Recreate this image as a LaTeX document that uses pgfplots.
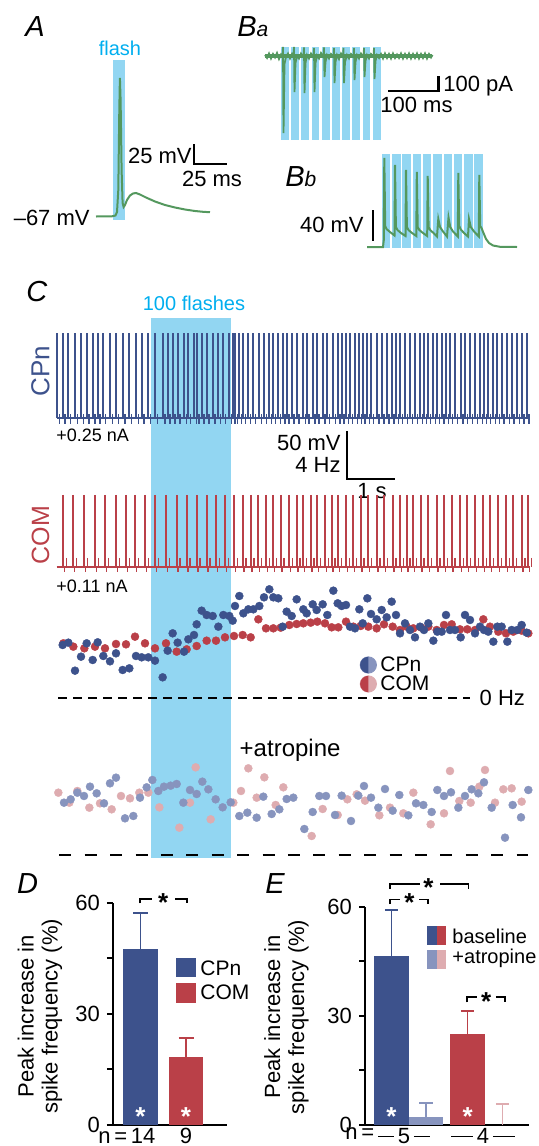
\documentclass[border=0pt]{standalone}
\usepackage{fontspec}
\setmainfont{Liberation Sans}
\usepackage{pgfplots}
\pgfplotsset{compat=1.18}
\usepackage{pgfplotstable}
\usetikzlibrary{plotmarks}

\definecolor{flashfill}{RGB}{146,214,242}
\definecolor{flashtxt}{RGB}{0,174,239}
\definecolor{trace}{RGB}{84,152,94}
\definecolor{cpn}{RGB}{61,82,140}
\definecolor{com}{RGB}{186,64,72}
\definecolor{cpnl}{RGB}{135,148,190}
\definecolor{coml}{RGB}{222,172,176}

\newcommand{\fs}[1]{\fontsize{#1}{#1}\selectfont}
\newcommand{\fb}[4]{\addplot[fill=flashfill, draw=none, forget plot] coordinates {(#1,#3) (#2,#3) (#2,#4) (#1,#4)} -- cycle;}
\newcommand{\ndash}[1]{\rule[0.27em]{#1}{0.07em}}

% left half of a disc, filled with the fill colour
\pgfdeclareplotmark{lefthalf*}{%
  \pgfpathmoveto{\pgfqpoint{0pt}{\pgfplotmarksize}}%
  \pgfpatharc{90}{270}{\pgfplotmarksize}%
  \pgfpathclose
  \pgfusepathqfill}

\pgfplotsset{pxaxis/.style={anchor=south west, scale only axis, y dir=reverse, hide axis, clip=false}}

% CPn baseline: spike times / instantaneous frequency (read positions)
\pgfplotstableread{
t f
52 nan
68 195
85 188
105 272
123 230
140 190
158 240
173 187
190 228
210 244
228 220
248 270
268 265
288 228
305 232
325 232
345 242
368 292
383 212
398 160
413 188
432 215
445 178
462 165
470 133
485 92
500 105
518 108
535 140
550 105
568 108
578 122
585 78
598 48
610 100
625 88
640 88
658 78
672 52
688 28
700 52
715 55
728 140
740 95
755 108
770 58
790 88
800 100
818 73
830 90
848 73
862 105
880 32
893 70
905 78
918 75
930 140
945 145
958 88
968 130
982 55
993 102
1010 118
1025 90
1040 112
1055 65
1068 105
1080 160
1095 130
1110 150
1125 172
1140 140
1152 150
1165 130
1180 182
1192 155
1205 155
1218 105
1230 150
1245 150
1262 172
1275 105
1290 120
1305 160
1320 140
1332 150
1345 155
1360 185
1372 140
1385 140
1402 185
1415 150
1432 150
1445 135
1460 158
}\cpntab

\pgfplotstableread{
t f
70 190
100 200
133 205
165 200
195 205
228 192
258 193
285 170
315 190
345 205
378 190
410 215
440 208
470 198
500 182
528 182
555 172
582 168
608 165
632 172
655 118
678 145
700 145
722 143
748 135
770 132
790 130
812 128
832 125
855 130
875 142
895 142
918 125
940 140
962 138
985 140
1010 145
1032 133
1058 140
1080 150
1100 140
1120 145
1142 142
1165 140
1190 150
1212 135
1235 133
1260 148
1282 148
1305 150
1330 118
1350 140
1375 155
1398 160
1420 155
1445 152
1465 160
}\comtab

\pgfplotstableread{
t f
72 218
92 208
112 188
132 198
150 170
170 190
192 220
210 160
228 143
255 265
280 258
300 203
320 172
337 150
355 183
372 170
392 167
410 162
430 218
450 180
470 192
487 155
505 178
527 208
548 232
572 217
598 258
622 248
650 263
670 200
695 252
718 238
740 207
760 203
793 297
818 246
838 198
858 198
885 255
905 197
933 273
955 197
972 168
993 203
1015 233
1035 177
1058 242
1078 195
1105 256
1128 220
1150 225
1175 246
1192 180
1212 198
1233 187
1255 233
1275 198
1295 178
1315 190
1332 157
1355 233
1395 323
1418 225
1443 262
1465 180
}\cpnatr

\pgfplotstableread{
t f
55 188
88 218
112 183
148 233
180 220
215 238
243 198
270 205
298 188
325 188
358 232
418 293
450 218
467 112
512 268
580 218
603 183
625 115
650 203
673 142
707 225
730 172
815 318
848 237
893 255
922 208
950 193
975 212
1018 256
1050 233
1090 250
1120 188
1172 283
1212 250
1230 123
1258 213
1292 218
1318 170
1335 120
1365 218
1390 178
1415 175
1445 215
}\comatr

\begin{document}
\begin{tikzpicture}
\useasboundingbox (0,0) rectangle (269pt,573pt);

%================ overlay axis in picture pixels =================
\begin{axis}[pxaxis, at={(0pt,0pt)}, width=269pt, height=573pt,
  xmin=0, xmax=538, ymin=0, ymax=1146]
% ---- A
\fb{113.3}{125}{60}{220}
\addplot[trace, line width=1pt] coordinates {(96,216.5)(112,216.3)(115.5,215.5)(117,212)(118.3,190)(119.3,110)(119.9,78)(120.6,100)(121.6,170)(122.6,203)(123.6,207)(125,205)(127,200)(130,195.5)(133,193.5)(136,193)(140,194.5)(146,197.5)(155,201.5)(165,205)(175,207.5)(185,209.5)(195,211)(203,211.8)(210,212.2)};
\addplot[black, line width=1.2pt] coordinates {(194,144)(194,164)(227,164)};
\node[anchor=base west, inner sep=0, font=\fs{14.5}\itshape] at (25,36.7) {A};
\node[anchor=base, inner sep=0, font=\fs{10}, text=flashtxt] at (120,55) {flash};
\node[anchor=base east, inner sep=0, font=\fs{11}] at (192,163.3) {25 mV};
\node[anchor=base, inner sep=0, font=\fs{11}] at (212,186.7) {25 ms};
\node[anchor=base east, inner sep=0, font=\fs{11}] at (90,225) {–67 mV};
% ---- Ba
\fb{281}{288.8}{47.3}{140}
\fb{291.2}{299}{47.3}{140}
\fb{301.4}{309.2}{47.3}{140}
\fb{311.6}{319.4}{47.3}{140}
\fb{321.8}{329.6}{47.3}{140}
\fb{332}{339.8}{47.3}{140}
\fb{342.2}{350}{47.3}{140}
\fb{352.4}{360.2}{47.3}{140}
\fb{362.6}{370.4}{47.3}{140}
\fb{372.8}{380.6}{47.3}{140}
\addplot[trace, line width=1.6pt] coordinates {(265,56)(432,56)};
\addplot[trace, line width=0.9pt] coordinates {(265,55)(267,58)(269,53.5)(271,58.5)(273,54)(275,57.5)(277,53)(279,59)(281,54.5)(282.5,57)(283,47)(283.5,133)(284.5,64)(286,57)(288,53.5)(290,58.5)(292,54)(293.5,57)(294,47)(294.5,92)(295.5,63)(297,56)(299,58.5)(301,53.5)(303.5,57)(304,47.5)(304.5,93)(305.5,63)(307,55)(309,58.5)(311,53.5)(313.5,57)(314,48)(314.5,92)(315.5,63)(317,55.5)(319,58.5)(321,53)(323.5,57)(324,47.5)(324.5,77)(325.5,62)(327,55)(329,58.5)(331,54)(333.5,57)(334,48)(334.5,83)(335.5,62)(337,55)(339,59)(341,53.5)(343,57)(343.5,48)(344,83)(345,62)(347,55)(349,58.5)(351,54)(353.5,57)(354,48)(354.5,80)(355.5,62)(357,55)(359,58.5)(361,53.5)(363.5,57)(364,48)(364.5,77)(365.5,61)(367,55)(369,58.5)(371,54)(373.5,57)(374,48)(374.5,79)(375.5,61)(377,55)(379,58)(381,54)(383,58.5)(385,53.5)(387,58)(389,54)(391,58.5)(393,53.5)(395,58)(397,54.5)(399,58)(401,53.5)(403,58.5)(405,54)(407,58)(409,53.5)(411,58.5)(413,54)(415,58)(417,53.5)(419,58.5)(421,54)(423,58)(425,53.5)(427,58.5)(429,54)(431,57.5)(432.5,55)};
\addplot[black, line width=1.2pt] coordinates {(438.3,76)(438.3,91)(388.3,91)};
\node[anchor=base west, inner sep=0] at (237,36.7) {\fs{14.5}\itshape B\fs{10.5}a};
\node[anchor=base west, inner sep=0, font=\fs{11}] at (443,91.7) {100 pA};
\node[anchor=base west, inner sep=0, font=\fs{11}] at (380,112.3) {100 ms};
% ---- Bb
\fb{381.7}{390.2}{154}{247.5}
\fb{392}{400.5}{154}{247.5}
\fb{402.3}{410.8}{154}{247.5}
\fb{412.6}{421.1}{154}{247.5}
\fb{422.9}{431.4}{154}{247.5}
\fb{433.2}{441.7}{154}{247.5}
\fb{443.5}{452}{154}{247.5}
\fb{453.8}{462.3}{154}{247.5}
\fb{464.1}{472.6}{154}{247.5}
\fb{474.4}{482.9}{154}{247.5}
\addplot[trace, line width=1pt] coordinates {(367,247)(383,247)(383.8,240)(384.3,158)(385.2,226)(386.5,229)(390,232)(394.5,235.5)(395,165)(395.9,227)(397.5,230)(401,233)(405.5,236)(406,170)(406.9,227)(408.5,230)(412,233)(416.3,236)(416.8,172)(417.7,227)(419.3,230)(423,233)(427.2,236)(427.7,176)(428.6,227)(430.2,230)(434,233.5)(437,236.5)(438.3,219)(440,227)(443,231.5)(447,236.5)(448.5,217.5)(450.2,227)(453,231.5)(457.8,236.5)(458.3,173)(459.2,226)(460.8,229.5)(464,233)(468,236.5)(469,219)(470.8,227)(474,231.5)(478.8,236.5)(479.3,175)(480.2,226)(481.5,228)(483.5,233)(486,239)(489,243)(493,245.5)(500,246.8)(517,247)};
\addplot[black, line width=1.2pt] coordinates {(373,210)(373,241)};
\node[anchor=base west, inner sep=0] at (285,186.7) {\fs{14.5}\itshape B\fs{10.5}b};
\node[anchor=base east, inner sep=0, font=\fs{11}] at (364,232.3) {40 mV};
% ---- C
\fb{151}{231}{318}{858}
\addplot[black, line width=1.2pt] coordinates {(347,431)(347,479)(395,479)};
\node[anchor=base west, inner sep=0, font=\fs{14.5}\itshape] at (26,301) {C};
\node[anchor=base, inner sep=0, font=\fs{10}, text=flashtxt] at (194,310) {100 flashes};
\node[rotate=90, inner sep=0, font=\fs{13}, text=cpn] at (40.5,371) {CPn};
\node[rotate=90, inner sep=0, font=\fs{12.5}, text=com] at (40.5,535) {COM};
\node[anchor=base west, inner sep=0, font=\fs{9}] at (56,441.7) {+0.25 nA};
\node[anchor=base west, inner sep=0, font=\fs{9}] at (56,592.3) {+0.11 nA};
\node[anchor=base east, inner sep=0, font=\fs{11}] at (341,450.3) {50 mV};
\node[anchor=base east, inner sep=0, font=\fs{11}] at (341,472.6) {4 Hz};
\node[anchor=base, inner sep=0, font=\fs{11}] at (372,498.3) {1 s};
% ---- D / E letters and n labels
\node[anchor=base west, inner sep=0, font=\fs{14.5}\itshape] at (16.7,893.3) {D};
\node[anchor=base west, inner sep=0, font=\fs{14.5}\itshape] at (265,893.3) {E};
\node[anchor=north west, inner sep=0, font=\fs{11}] at (98,1127.5) {n\,=\,14};
\node[anchor=north, inner sep=0, font=\fs{11}] at (186,1127.5) {9};
\node[anchor=north west, inner sep=0, font=\fs{11}] at (345,1127.5) {n\,=};
\node[anchor=north, inner sep=0, font=\fs{11}] at (404,1127.5) {\ndash{8pt}\,5\,\ndash{8pt}};
\node[anchor=north, inner sep=0, font=\fs{11}] at (483,1127.5) {\ndash{11pt}\,4\,\ndash{11pt}};
\end{axis}

%================ C traces (shared time axis) =================
\begin{axis}[pxaxis, at={(20pt,0pt)}, width=249pt, height=573pt,
  xmin=0, xmax=1494, ymin=0, ymax=1146]
\addplot[cpn, line width=1pt] coordinates {(50,418)(1463,418)};
\addplot[only marks, mark=|, mark size=21.2pt, mark options={cpn, line width=0.85pt}] table[x=t, y expr=375.7] {\cpntab};
\addplot[only marks, mark=|, mark size=2.5pt, mark options={cpn, line width=0.7pt, xshift=1.1pt}] table[x=t, y expr=419.5] {\cpntab};
\addplot[com, line width=1pt] coordinates {(50,567)(1470,567)};
\addplot[only marks, mark=|, mark size=18pt, mark options={com, line width=0.85pt}] table[x=t, y expr=531] {\comtab};
\addplot[only marks, mark=|, mark size=2.3pt, mark options={com, line width=0.7pt, xshift=1.6pt}] table[x=t, y expr=562.5] {\comtab};
\addplot[only marks, mark=|, mark size=1.5pt, mark options={com, line width=0.7pt, xshift=0.6pt}] table[x=t, y expr=569] {\comtab};
\end{axis}

%================ C frequency scatter, baseline =================
\begin{axis}[pxaxis, at={(20pt,218pt)}, width=249pt, height=65pt,
  xmin=0, xmax=1494, ymin=0, ymax=390]
\addplot[black, line width=1pt, dash pattern=on 4.2pt off 3.3pt] coordinates {(55,355)(1290,355)};
\addplot[only marks, color=com, mark=*, mark size=2pt, mark options={draw=com, fill=com, line width=0.2pt}] table[x=t, y=f] {\comtab};
\addplot[only marks, color=cpn, mark=*, mark size=2pt, mark options={draw=cpn, fill=cpn, line width=0.2pt}] table[x=t, y=f] {\cpntab};
% split-disc legend: light full disc, dark left half
\addplot[only marks, color=cpnl, mark=*, mark size=4.1pt, mark options={draw=none, fill=cpnl}] coordinates {(985,255)};
\addplot[only marks, color=cpn, mark=lefthalf*, mark size=4.1pt, mark options={draw=none, fill=cpn}] coordinates {(985,255)};
\addplot[only marks, color=coml, mark=*, mark size=4.1pt, mark options={draw=none, fill=coml}] coordinates {(985,312)};
\addplot[only marks, color=com, mark=lefthalf*, mark size=4.1pt, mark options={draw=none, fill=com}] coordinates {(985,312)};
\node[anchor=base west, inner sep=0, font=\fs{10.5}] at (1020,275) {CPn};
\node[anchor=base west, inner sep=0, font=\fs{10.5}] at (1020,332) {COM};
\node[anchor=base west, inner sep=0, font=\fs{11}] at (1318,378) {0 Hz};
\end{axis}

%================ C frequency scatter, +atropine =================
\begin{axis}[pxaxis, at={(20pt,140.5pt)}, width=249pt, height=67.5pt,
  xmin=0, xmax=1494, ymin=0, ymax=405]
\addplot[black, line width=1pt, dash pattern=on 6pt off 6.7pt] coordinates {(58,375)(1465,375)};
\addplot[only marks, color=coml, mark=*, mark size=2pt, mark options={draw=coml, fill=coml, line width=0.2pt}] table[x=t, y=f] {\comatr};
\addplot[only marks, color=cpnl, mark=*, mark size=2pt, mark options={draw=cpnl, fill=cpnl, line width=0.2pt}] table[x=t, y=f] {\cpnatr};
\node[anchor=base west, inner sep=0, font=\fs{12}] at (598,80) {+atropine};
\end{axis}

%================ D =================
\begin{axis}[at={(56.5pt,10.5pt)}, anchor=south west, scale only axis,
  width=57pt, height=111pt, xmin=113, xmax=227, ymin=0, ymax=60,
  axis lines*=left, axis line style={line width=1pt, black},
  xtick=\empty, ytick={0,15,30,45,60}, yticklabels={0,,30,,60},
  tick align=outside, major tick length=3pt, tick style={line width=1pt, black},
  tick label style={font=\fs{11}},
  ylabel={Peak increase in\\spike frequency (\%)},
  ylabel style={font=\fontsize{11}{12}\selectfont, align=center, at={(axis description cs:-0.64,0.49)}, anchor=center},
  clip=false]
\addplot[ybar, bar width=17.2pt, bar shift=0pt, fill=cpn, draw=none] coordinates {(140.5,47.6)};
\addplot[ybar, bar width=17.2pt, bar shift=0pt, fill=com, draw=none] coordinates {(186,18.4)};
\addplot[cpn, line width=0.8pt] coordinates {(140.5,47.6)(140.5,57.3)};
\addplot[cpn, line width=0.8pt] coordinates {(133,57.3)(148,57.3)};
\addplot[com, line width=0.8pt] coordinates {(186,18.4)(186,23.5)};
\addplot[com, line width=0.8pt] coordinates {(178.5,23.5)(193.5,23.5)};
% significance bracket
\addplot[black, line width=0.8pt] coordinates {(140,59.9)(140,61)(151.7,61)};
\addplot[black, line width=0.8pt] coordinates {(175,61)(186.7,61)(186.7,59.9)};
\node[anchor=north, inner sep=0, font=\fs{13}\bfseries] at (163.3,62.6) {*};
\node[anchor=north, inner sep=0, font=\fs{13}\bfseries, text=white] at (140.5,4.9) {*};
\node[anchor=north, inner sep=0, font=\fs{13}\bfseries, text=white] at (186,4.9) {*};
% legend
\addplot[fill=cpn, draw=none] coordinates {(176,45.1)(196,45.1)(196,40)(176,40)} -- cycle;
\addplot[fill=com, draw=none] coordinates {(176,38.4)(196,38.4)(196,33)(176,33)} -- cycle;
\node[anchor=base west, inner sep=0, font=\fs{10.5}] at (200,40.5) {CPn};
\node[anchor=base west, inner sep=0, font=\fs{10.5}] at (200,33.8) {COM};
\end{axis}

%================ E =================
\begin{axis}[at={(182.5pt,10.5pt)}, anchor=south west, scale only axis,
  width=82.2pt, height=109.2pt, xmin=365, xmax=529.3, ymin=0, ymax=60,
  axis lines*=left, axis line style={line width=1pt, black},
  xtick=\empty, ytick={0,15,30,45,60}, yticklabels={0,,30,,60},
  tick align=outside, major tick length=3pt, tick style={line width=1pt, black},
  tick label style={font=\fs{11}},
  ylabel={Peak increase in\\spike frequency (\%)},
  ylabel style={font=\fontsize{11}{12}\selectfont, align=center, at={(axis description cs:-0.478,0.495)}, anchor=center},
  clip=false]
\addplot[ybar, bar width=17.3pt, bar shift=0pt, fill=cpn, draw=none] coordinates {(391.5,46.5)};
\addplot[ybar, bar width=17.3pt, bar shift=0pt, fill=cpnl, draw=none] coordinates {(426,2.3)};
\addplot[ybar, bar width=17.3pt, bar shift=0pt, fill=com, draw=none] coordinates {(467.5,25.0)};
\addplot[cpn, line width=0.8pt] coordinates {(391.5,46.5)(391.5,59.1)};
\addplot[cpn, line width=0.8pt] coordinates {(384.8,59.1)(398.2,59.1)};
\addplot[cpnl, line width=0.8pt] coordinates {(426,2.3)(426,6.1)};
\addplot[cpnl, line width=0.8pt] coordinates {(419.3,6.1)(432.7,6.1)};
\addplot[com, line width=0.8pt] coordinates {(467.5,25.0)(467.5,31.3)};
\addplot[com, line width=0.8pt] coordinates {(460.8,31.3)(474.2,31.3)};
\addplot[coml, line width=0.8pt] coordinates {(502.5,0)(502.5,5.8)};
\addplot[coml, line width=0.8pt] coordinates {(495.8,5.8)(509.2,5.8)};
% brackets
\addplot[black, line width=0.8pt] coordinates {(390,64.8)(390,66.2)(420,66.2)};
\addplot[black, line width=0.8pt] coordinates {(440,66.2)(468.3,66.2)(468.3,64.8)};
\node[anchor=north, inner sep=0, font=\fs{13}\bfseries] at (428.3,67.8) {*};
\addplot[black, line width=0.8pt] coordinates {(390,60.7)(390,62)(400,62)};
\addplot[black, line width=0.8pt] coordinates {(419.3,62)(427.7,62)(427.7,60.7)};
\node[anchor=north, inner sep=0, font=\fs{13}\bfseries] at (409.3,63.7) {*};
\addplot[black, line width=0.8pt] coordinates {(466.7,33.7)(466.7,35.1)(476.7,35.1)};
\addplot[black, line width=0.8pt] coordinates {(495.7,35.1)(505,35.1)(505,33.7)};
\node[anchor=north, inner sep=0, font=\fs{13}\bfseries] at (486,36.4) {*};
\node[anchor=north, inner sep=0, font=\fs{13}\bfseries, text=white] at (391.5,5.0) {*};
\node[anchor=north, inner sep=0, font=\fs{13}\bfseries, text=white] at (467.5,5.0) {*};
% legend
\addplot[fill=cpn, draw=none] coordinates {(427,54.7)(436.5,54.7)(436.5,49.5)(427,49.5)} -- cycle;
\addplot[fill=com, draw=none] coordinates {(436.5,54.7)(446,54.7)(446,49.5)(436.5,49.5)} -- cycle;
\addplot[fill=cpnl, draw=none] coordinates {(427,48.1)(436.5,48.1)(436.5,42.9)(427,42.9)} -- cycle;
\addplot[fill=coml, draw=none] coordinates {(436.5,48.1)(446,48.1)(446,42.9)(436.5,42.9)} -- cycle;
\node[anchor=base west, inner sep=0, font=\fs{10}] at (452,49.9) {baseline};
\node[anchor=base west, inner sep=0, font=\fs{10}] at (452,44.4) {+atropine};
\end{axis}
\end{tikzpicture}
\end{document}
